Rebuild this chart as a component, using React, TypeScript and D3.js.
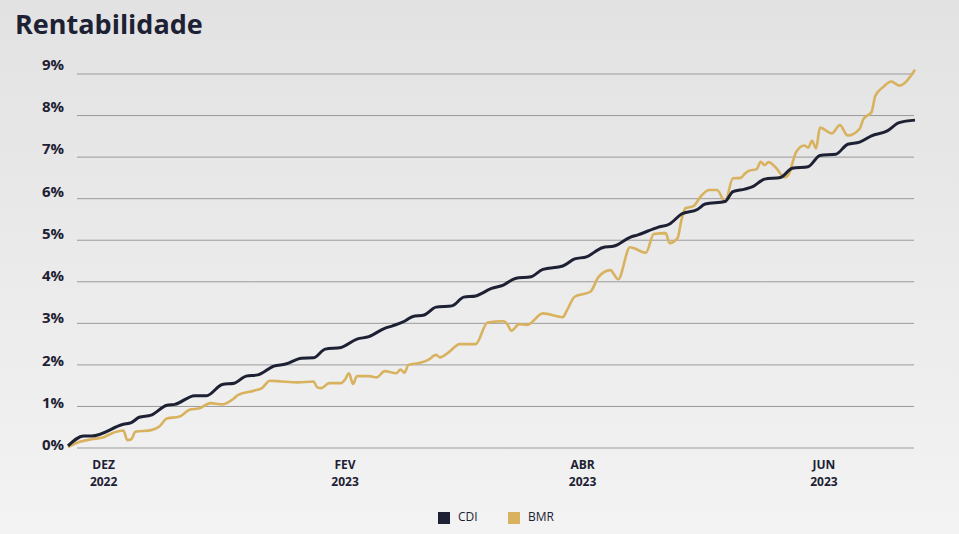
import React from "react";
import * as d3 from "d3";

// ---- data ----
const cdiDates = [
  "2022-11-22", "2022-11-26", "2022-11-28", "2022-12-06", "2022-12-08", "2022-12-10", "2022-12-13",
  "2022-12-17", "2022-12-19", "2022-12-24", "2022-12-27", "2022-12-31", "2023-01-03", "2023-01-06",
  "2023-01-09", "2023-01-13", "2023-01-16", "2023-01-20", "2023-01-23", "2023-01-26", "2023-01-30",
  "2023-02-03", "2023-02-06", "2023-02-10", "2023-02-12", "2023-02-15", "2023-02-17", "2023-02-20",
  "2023-02-23", "2023-02-27", "2023-03-02", "2023-03-05", "2023-03-09", "2023-03-12", "2023-03-15",
  "2023-03-19", "2023-03-22", "2023-03-27", "2023-03-30", "2023-04-02", "2023-04-06", "2023-04-09",
  "2023-04-13", "2023-04-15", "2023-04-20", "2023-04-23", "2023-04-26", "2023-04-30", "2023-05-02",
  "2023-05-07", "2023-05-09", "2023-05-12", "2023-05-14", "2023-05-17", "2023-05-21", "2023-05-24",
  "2023-05-28", "2023-05-31", "2023-06-04", "2023-06-07", "2023-06-10", "2023-06-13", "2023-06-17",
  "2023-06-20", "2023-06-24",
];
const cdiValues = [
  0.05, 0.29, 0.29, 0.57, 0.61, 0.74, 0.79,
  1.03, 1.05, 1.26, 1.26, 1.53, 1.56, 1.73,
  1.76, 1.97, 2.02, 2.16, 2.17, 2.38, 2.42,
  2.62, 2.68, 2.88, 2.94, 3.05, 3.16, 3.20,
  3.39, 3.42, 3.63, 3.66, 3.84, 3.92, 4.08,
  4.12, 4.30, 4.38, 4.55, 4.60, 4.82, 4.86,
  5.07, 5.13, 5.31, 5.39, 5.63, 5.74, 5.87,
  5.93, 6.17, 6.23, 6.29, 6.47, 6.51, 6.73,
  6.77, 7.04, 7.07, 7.31, 7.36, 7.51, 7.63,
  7.83, 7.89,
];

const bmrDates = [
  "2022-11-22", "2022-11-25", "2022-11-28", "2022-12-01", "2022-12-03", "2022-12-06", "2022-12-07",
  "2022-12-08", "2022-12-09", "2022-12-13", "2022-12-15", "2022-12-17", "2022-12-20", "2022-12-23",
  "2022-12-25", "2022-12-28", "2022-12-31", "2023-01-03", "2023-01-04", "2023-01-08", "2023-01-10",
  "2023-01-12", "2023-01-15", "2023-01-19", "2023-01-23", "2023-01-24", "2023-01-25", "2023-01-27",
  "2023-01-30", "2023-01-31", "2023-02-01", "2023-02-02", "2023-02-03", "2023-02-06", "2023-02-08",
  "2023-02-10", "2023-02-13", "2023-02-14", "2023-02-15", "2023-02-16", "2023-02-19", "2023-02-21",
  "2023-02-23", "2023-02-24", "2023-02-26", "2023-03-01", "2023-03-05", "2023-03-08", "2023-03-12",
  "2023-03-13", "2023-03-14", "2023-03-16", "2023-03-18", "2023-03-22", "2023-03-27", "2023-03-28",
  "2023-03-30", "2023-04-03", "2023-04-05", "2023-04-08", "2023-04-10", "2023-04-13", "2023-04-17",
  "2023-04-19", "2023-04-22", "2023-04-23", "2023-04-25", "2023-04-26", "2023-04-27", "2023-04-29",
  "2023-05-01", "2023-05-03", "2023-05-05", "2023-05-07", "2023-05-09", "2023-05-11", "2023-05-12",
  "2023-05-13", "2023-05-15", "2023-05-16", "2023-05-17", "2023-05-18", "2023-05-20", "2023-05-22",
  "2023-05-23", "2023-05-25", "2023-05-27", "2023-05-28", "2023-05-29", "2023-05-30", "2023-05-31",
  "2023-06-03", "2023-06-05", "2023-06-07", "2023-06-10", "2023-06-11", "2023-06-13", "2023-06-14",
  "2023-06-16", "2023-06-18", "2023-06-20", "2023-06-24",
];
const bmrValues = [
  0.02, 0.15, 0.21, 0.26, 0.35, 0.42, 0.19,
  0.21, 0.39, 0.43, 0.51, 0.71, 0.75, 0.93,
  0.95, 1.08, 1.05, 1.20, 1.28, 1.38, 1.44,
  1.62, 1.60, 1.58, 1.60, 1.46, 1.44, 1.56,
  1.56, 1.65, 1.80, 1.54, 1.73, 1.73, 1.70,
  1.85, 1.80, 1.89, 1.81, 2.00, 2.05, 2.12,
  2.24, 2.18, 2.29, 2.50, 2.50, 3.02, 3.05,
  2.98, 2.82, 2.98, 2.96, 3.24, 3.15, 3.30,
  3.64, 3.76, 4.11, 4.28, 4.06, 4.83, 4.70,
  5.15, 5.17, 4.93, 5.05, 5.49, 5.77, 5.82,
  6.07, 6.21, 6.21, 5.93, 6.49, 6.50, 6.60,
  6.67, 6.71, 6.89, 6.81, 6.88, 6.73, 6.51,
  6.57, 7.13, 7.28, 7.23, 7.39, 7.21, 7.71,
  7.57, 7.77, 7.52, 7.68, 7.92, 8.08, 8.48,
  8.69, 8.82, 8.72, 9.10,
];

const yTickValues = [0, 1, 2, 3, 4, 5, 6, 7, 8, 9];
const xTickDates = ["2022-12-01", "2023-01-31", "2023-04-01", "2023-06-01"];
const xTickMonths = ["DEZ", "FEV", "ABR", "JUN"];
const xTickYears = ["2022", "2023", "2023", "2023"];
const seriesNames = ["CDI", "BMR"];
const domainStart = "2022-11-22";
const domainEnd = "2023-06-24";

// ---- styles ----
const WIDTH = 959;
const HEIGHT = 534;
const DARK = "#1d2133";
const GOLD = "#d8b25e";
const FONT = "'Open Sans', 'Noto Sans', sans-serif";

const parse = d3.timeParse("%Y-%m-%d");

export default function App() {
  const x = d3
    .scaleTime()
    .domain([parse(domainStart)!, parse(domainEnd)!])
    .range([68, 915]);
  const y = d3.scaleLinear().domain([0, 9]).range([448, 74]);
  // tick labels in the reference sit on a slightly wider spacing than the grid
  const yLabel = d3.scaleLinear().domain([0, 9]).range([446, 66]);

  const cdi = cdiDates.map((d, i) => ({ date: parse(d)!, value: cdiValues[i] }));
  const bmr = bmrDates.map((d, i) => ({ date: parse(d)!, value: bmrValues[i] }));

  const line = d3
    .line<{ date: Date; value: number }>()
    .x((d) => x(d.date))
    .y((d) => y(d.value))
    .curve(d3.curveMonotoneX);

  const colors = [DARK, GOLD];

  return (
    <svg
      width={WIDTH}
      height={HEIGHT}
      style={{ position: "fixed", left: 0, top: 0, display: "block" }}
      fontFamily={FONT}
    >
      <defs>
        <linearGradient id="bg" x1="0" y1="0" x2="0" y2="1">
          <stop offset="0%" stopColor="#e2e2e2" />
          <stop offset="100%" stopColor="#f3f3f3" />
        </linearGradient>
      </defs>
      <rect x={0} y={0} width={WIDTH} height={HEIGHT} fill="url(#bg)" />

      <text x={15} y={34} fontSize={27} fontWeight={700} fill={DARK}>
        Rentabilidade
      </text>

      {/* grid + y labels */}
      {yTickValues.map((t) => (
        <g key={t}>
          <line x1={77} x2={914} y1={y(t)} y2={y(t)} stroke="#9a9a9a" strokeWidth={1} />
          <text
            x={64}
            y={yLabel(t)}
            textAnchor="end"
            dominantBaseline="middle"
            fontSize={15}
            fontWeight={700}
            fill={DARK}
          >
            {t}%
          </text>
        </g>
      ))}

      {/* x labels */}
      {xTickDates.map((d, i) => {
        const px = x(parse(d)!);
        return (
          <g key={d}>
            <text x={px} y={469} textAnchor="middle" fontSize={12} fontWeight={700} fill={DARK}>
              {xTickMonths[i]}
            </text>
            <text x={px} y={486} textAnchor="middle" fontSize={12} fontWeight={700} fill={DARK}>
              {xTickYears[i]}
            </text>
          </g>
        );
      })}

      {/* lines */}
      <path d={line(bmr) ?? ""} fill="none" stroke={GOLD} strokeWidth={2.6} strokeLinejoin="round" />
      <path d={line(cdi) ?? ""} fill="none" stroke={DARK} strokeWidth={3} strokeLinejoin="round" />

      {/* legend */}
      {seriesNames.map((name, i) => (
        <g key={name} transform={`translate(${438 + i * 70}, 512)`}>
          <rect x={0} y={0} width={12} height={12} fill={colors[i]} />
          <text x={20} y={6} dominantBaseline="middle" fontSize={12} fill={DARK}>
            {name}
          </text>
        </g>
      ))}
    </svg>
  );
}
